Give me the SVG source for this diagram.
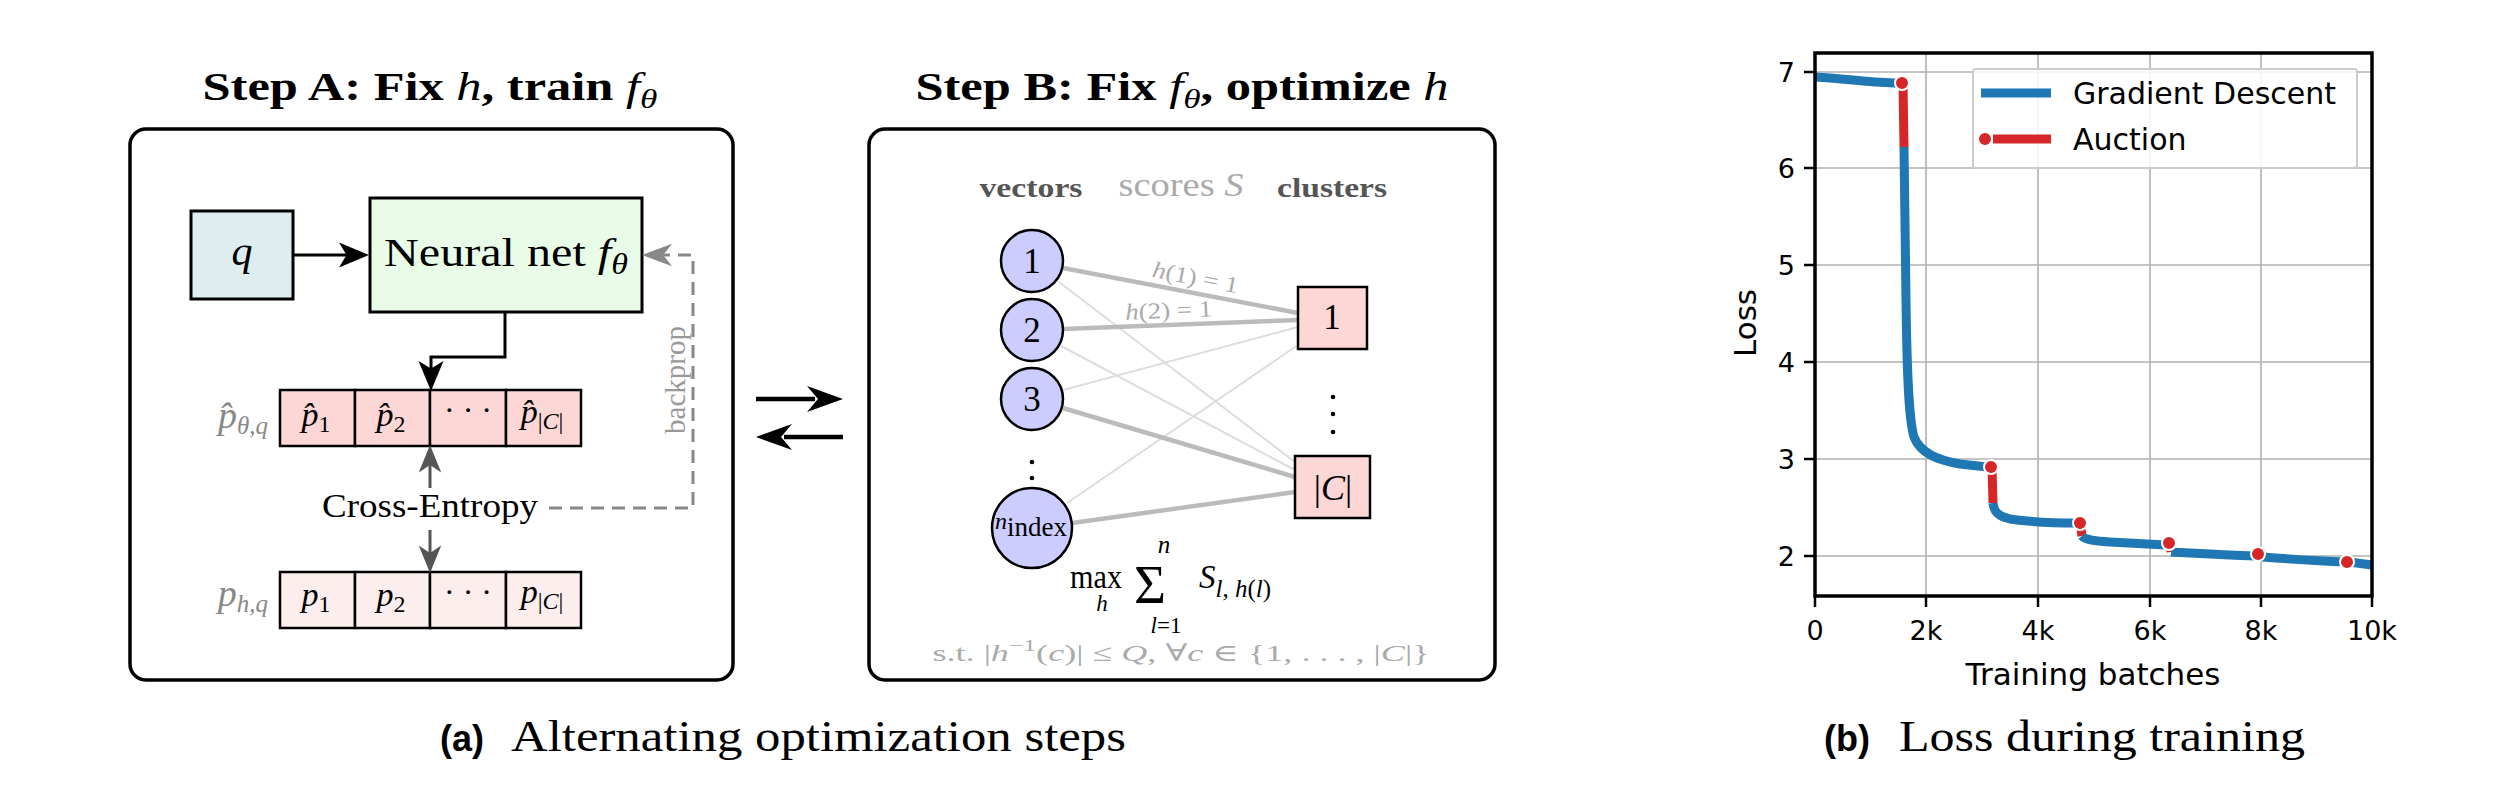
<svg xmlns="http://www.w3.org/2000/svg" width="2520" height="785" viewBox="0 0 2520 785">
<defs>
<style>
.serif{font-family:'Liberation Serif','DejaVu Serif',serif;}
.sans{font-family:'DejaVu Sans','Liberation Sans',sans-serif;}
.capsans{font-family:'Liberation Sans','DejaVu Sans',sans-serif;font-weight:bold;}
.it{font-style:italic;}
.panel{fill:none;stroke:#000;stroke-width:3.5;}
.cell1{fill:#fdd6d6;stroke:#000;stroke-width:2.5;}
.cell2{fill:#fdeeee;stroke:#000;stroke-width:2.5;}
.vec{fill:#ccccff;stroke:#000;stroke-width:2.5;}
.clu{fill:#fdd6d6;stroke:#000;stroke-width:2.5;}
.thick{stroke:#bbbbbb;stroke-width:4.5;fill:none;}
.thin{stroke:#dddddd;stroke-width:2;fill:none;}
.grid{stroke:#b0b0b0;stroke-width:1.6;fill:none;}
.tick{stroke:#000;stroke-width:2.5;}
.gd{fill:none;stroke:#1f77b4;stroke-width:9;stroke-linejoin:round;}
.au{fill:none;stroke:#d62728;stroke-width:9;}
.dot{fill:#d62728;stroke:#fff;stroke-width:2;}
.ticklbl{font-family:'DejaVu Sans',sans-serif;font-size:27px;fill:#000;}
</style>
<marker id="ab" markerUnits="userSpaceOnUse" markerWidth="40" markerHeight="40" viewBox="-24 -14 32 28" refX="0" refY="0" orient="auto">
<path d="M4,0 L-20,-10 L-14,0 L-20,10 Z" fill="#000"/>
</marker>
<marker id="ag" markerUnits="userSpaceOnUse" markerWidth="40" markerHeight="40" viewBox="-24 -14 32 28" refX="0" refY="0" orient="auto">
<path d="M4,0 L-18,-9 L-12,0 L-18,9 Z" fill="#555"/>
</marker>
<marker id="al" markerUnits="userSpaceOnUse" markerWidth="40" markerHeight="40" viewBox="-24 -14 32 28" refX="0" refY="0" orient="auto">
<path d="M4,0 L-20,-9 L-13,0 L-20,9 Z" fill="#888"/>
</marker>
</defs>
<rect width="2520" height="785" fill="#fff"/>

<!-- Panel A -->
<g id="panelA">
<text class="serif" x="430" y="100" font-size="40" font-weight="bold" text-anchor="middle" textLength="455" lengthAdjust="spacingAndGlyphs">Step A: Fix <tspan class="it" font-weight="normal">h</tspan>, train <tspan class="it" font-weight="normal">f</tspan><tspan class="it" font-weight="normal" font-size="28" dy="8">θ</tspan></text>
<rect class="panel" x="130" y="129" width="603" height="551" rx="16"/>
</g>
<g id="node-q">
<rect x="191" y="211" width="102" height="88" fill="#ddedf0" stroke="#000" stroke-width="3"/>
<text class="serif it" x="242" y="265" font-size="42" text-anchor="middle">q</text>
</g>
<g id="node-nn">
<rect x="370" y="198" width="272" height="114" fill="#e8fce8" stroke="#000" stroke-width="3"/>
<text class="serif" x="506" y="266" font-size="41" text-anchor="middle" textLength="244" lengthAdjust="spacingAndGlyphs">Neural net <tspan class="it">f</tspan><tspan class="it" font-size="29" dy="8">θ</tspan></text>
</g>
<g id="node-phat">
<rect class="cell1" x="280" y="390" width="75" height="56"/>
<rect class="cell1" x="355" y="390" width="75" height="56"/>
<rect class="cell1" x="430" y="390" width="76" height="56"/>
<rect class="cell1" x="506" y="390" width="75" height="56"/>
<text class="serif it" x="268" y="428" font-size="38" fill="#888" text-anchor="end">p̂<tspan font-size="25" dy="6">θ,q</tspan></text>
<text class="serif" x="316" y="426" font-size="34" text-anchor="middle"><tspan class="it">p̂</tspan><tspan font-size="24" dy="6">1</tspan></text>
<text class="serif" x="391" y="426" font-size="34" text-anchor="middle"><tspan class="it">p̂</tspan><tspan font-size="24" dy="6">2</tspan></text>
<text class="serif" x="468" y="421" font-size="32" text-anchor="middle">· · ·</text>
<text class="serif" x="542" y="423" font-size="34" text-anchor="middle"><tspan class="it">p̂</tspan><tspan font-size="24" dy="6">|<tspan class="it">C</tspan>|</tspan></text>
</g>
<g id="node-p">
<rect class="cell2" x="280" y="572" width="75" height="56"/>
<rect class="cell2" x="355" y="572" width="75" height="56"/>
<rect class="cell2" x="430" y="572" width="76" height="56"/>
<rect class="cell2" x="506" y="572" width="75" height="56"/>
<text class="serif it" x="268" y="606" font-size="38" fill="#888" text-anchor="end">p<tspan font-size="25" dy="6">h,q</tspan></text>
<text class="serif" x="316" y="606" font-size="34" text-anchor="middle"><tspan class="it">p</tspan><tspan font-size="24" dy="6">1</tspan></text>
<text class="serif" x="391" y="606" font-size="34" text-anchor="middle"><tspan class="it">p</tspan><tspan font-size="24" dy="6">2</tspan></text>
<text class="serif" x="468" y="603" font-size="32" text-anchor="middle">· · ·</text>
<text class="serif" x="542" y="603" font-size="34" text-anchor="middle"><tspan class="it">p</tspan><tspan font-size="24" dy="6">|<tspan class="it">C</tspan>|</tspan></text>
</g>
<g id="node-ce">
<text class="serif" x="430" y="517" font-size="33" text-anchor="middle" textLength="216" lengthAdjust="spacingAndGlyphs">Cross-Entropy</text>
</g>
<g id="connectorsA">
<line x1="293" y1="255" x2="364" y2="255" stroke="#000" stroke-width="3" marker-end="url(#ab)"/>
<path d="M505,312 V357 H431 V386" fill="none" stroke="#000" stroke-width="3" marker-end="url(#ab)"/>
<line x1="430" y1="488" x2="430" y2="450" stroke="#555" stroke-width="3" marker-end="url(#ag)"/>
<line x1="430" y1="530" x2="430" y2="568" stroke="#555" stroke-width="3" marker-end="url(#ag)"/>
<path d="M549,508 H693 V255 H647" fill="none" stroke="#888" stroke-width="3" stroke-dasharray="13 8" marker-end="url(#al)"/>
<text class="serif" transform="translate(685,380) rotate(-90)" font-size="29" fill="#999" text-anchor="middle">backprop</text>
</g>

<!-- middle arrows -->
<g id="swap">
<line x1="756" y1="399" x2="815" y2="399" stroke="#000" stroke-width="4.5"/>
<path d="M843,399 L807,386 L818,399 L807,412 Z" fill="#000"/>
<line x1="843" y1="437" x2="784" y2="437" stroke="#000" stroke-width="4.5"/>
<path d="M756,437 L792,424 L781,437 L792,450 Z" fill="#000"/>
</g>

<!-- Panel B -->
<g id="panelB">
<text class="serif" x="1182" y="100" font-size="40" font-weight="bold" text-anchor="middle" textLength="533" lengthAdjust="spacingAndGlyphs">Step B: Fix <tspan class="it" font-weight="normal">f</tspan><tspan class="it" font-weight="normal" font-size="28" dy="8">θ</tspan><tspan dy="-8">, optimize </tspan><tspan class="it" font-weight="normal">h</tspan></text>
<rect class="panel" x="869" y="129" width="626" height="551" rx="16"/>
<text class="serif" x="1031" y="197" font-size="28" font-weight="bold" fill="#555" text-anchor="middle" textLength="103" lengthAdjust="spacingAndGlyphs">vectors</text>
<text class="serif" x="1181" y="196" font-size="33" fill="#aaa" text-anchor="middle" textLength="125" lengthAdjust="spacingAndGlyphs">scores <tspan class="it">S</tspan></text>
<text class="serif" x="1332" y="197" font-size="28" font-weight="bold" fill="#555" text-anchor="middle" textLength="110" lengthAdjust="spacingAndGlyphs">clusters</text>
</g>
<g id="connectorsB">
<line class="thin" x1="1059" y1="282" x2="1295" y2="462"/>
<line class="thin" x1="1061" y1="346" x2="1295" y2="470"/>
<line class="thin" x1="1063" y1="390" x2="1298" y2="327"/>
<line class="thin" x1="1067" y1="503" x2="1298" y2="345"/>
<line class="thick" x1="1063" y1="268" x2="1298" y2="313"/>
<line class="thick" x1="1063" y1="329" x2="1298" y2="320"/>
<line class="thick" x1="1063" y1="408" x2="1295" y2="477"/>
<line class="thick" x1="1072" y1="523" x2="1295" y2="492"/>
<text class="serif it" transform="translate(1194,285) rotate(10.8)" font-size="23" fill="#aaa" text-anchor="middle" textLength="87" lengthAdjust="spacingAndGlyphs">h<tspan font-style="normal">(1) = 1</tspan></text>
<text class="serif it" transform="translate(1169,318) rotate(-2.2)" font-size="23" fill="#aaa" text-anchor="middle" textLength="87" lengthAdjust="spacingAndGlyphs">h<tspan font-style="normal">(2) = 1</tspan></text>
</g>
<g id="vec-1"><circle class="vec" cx="1032" cy="261" r="31"/><text class="serif" x="1032" y="273" font-size="35" text-anchor="middle">1</text></g>
<g id="vec-2"><circle class="vec" cx="1032" cy="330" r="31"/><text class="serif" x="1032" y="342" font-size="35" text-anchor="middle">2</text></g>
<g id="vec-3"><circle class="vec" cx="1032" cy="399" r="31"/><text class="serif" x="1032" y="411" font-size="35" text-anchor="middle">3</text></g>
<g id="vec-dots"><circle cx="1032" cy="462" r="2.3" fill="#000"/><circle cx="1032" cy="478" r="2.3" fill="#000"/></g>
<g id="vec-n"><circle class="vec" cx="1032" cy="528" r="40"/><text class="serif" x="1031" y="529" font-size="24" text-anchor="middle"><tspan class="it">n</tspan><tspan font-size="27" dy="7">index</tspan></text></g>
<g id="clu-1"><rect class="clu" x="1298" y="287" width="69" height="62"/><text class="serif" x="1332" y="329" font-size="35" text-anchor="middle">1</text></g>
<g id="clu-dots"><circle cx="1333" cy="397" r="2.3" fill="#000"/><circle cx="1333" cy="414" r="2.3" fill="#000"/><circle cx="1333" cy="432" r="2.3" fill="#000"/></g>
<g id="clu-C"><rect class="clu" x="1295" y="456" width="75" height="62"/><text class="serif" x="1333" y="500" font-size="36" text-anchor="middle">|<tspan class="it">C</tspan>|</text></g>
<g id="formula">
<text class="serif" x="1096" y="588" font-size="33" text-anchor="middle" textLength="52" lengthAdjust="spacingAndGlyphs">max</text>
<text class="serif it" x="1102" y="611" font-size="23" text-anchor="middle">h</text>
<text class="serif" x="1150" y="603" font-size="55" text-anchor="middle">Σ</text>
<text class="serif it" x="1164" y="553" font-size="25" text-anchor="middle">n</text>
<text class="serif" x="1166" y="633" font-size="23" text-anchor="middle"><tspan class="it">l</tspan>=1</text>
<text class="serif" x="1199" y="588" font-size="33"><tspan class="it">S</tspan><tspan font-size="25" dy="9"><tspan class="it">l</tspan>, <tspan class="it">h</tspan>(<tspan class="it">l</tspan>)</tspan></text>
<text class="serif" x="1181" y="661" font-size="24" fill="#aaa" text-anchor="middle" textLength="497" lengthAdjust="spacingAndGlyphs">s.t. |<tspan class="it">h</tspan><tspan font-size="17" dy="-10">−1</tspan><tspan dy="10">(</tspan><tspan class="it">c</tspan>)| ≤ <tspan class="it">Q</tspan>,  ∀<tspan class="it">c</tspan> ∈ {1, . . . , |<tspan class="it">C</tspan>|}</text>
</g>

<!-- Panel B chart -->
<g id="chart">
<g class="grid">
<line x1="1926" y1="53" x2="1926" y2="596"/><line x1="2038" y1="53" x2="2038" y2="596"/><line x1="2150" y1="53" x2="2150" y2="596"/><line x1="2261" y1="53" x2="2261" y2="596"/>
<line x1="1815" y1="72" x2="2372" y2="72"/><line x1="1815" y1="168" x2="2372" y2="168"/><line x1="1815" y1="265" x2="2372" y2="265"/><line x1="1815" y1="362" x2="2372" y2="362"/><line x1="1815" y1="459" x2="2372" y2="459"/><line x1="1815" y1="556" x2="2372" y2="556"/>
</g>
<g class="tick">
<line x1="1804" y1="72" x2="1815" y2="72"/><line x1="1804" y1="168" x2="1815" y2="168"/><line x1="1804" y1="265" x2="1815" y2="265"/><line x1="1804" y1="362" x2="1815" y2="362"/><line x1="1804" y1="459" x2="1815" y2="459"/><line x1="1804" y1="556" x2="1815" y2="556"/>
<line x1="1815" y1="596" x2="1815" y2="607"/><line x1="1926" y1="596" x2="1926" y2="607"/><line x1="2038" y1="596" x2="2038" y2="607"/><line x1="2150" y1="596" x2="2150" y2="607"/><line x1="2261" y1="596" x2="2261" y2="607"/><line x1="2372" y1="596" x2="2372" y2="607"/>
</g>
<g class="ticklbl" text-anchor="end">
<text x="1795" y="82">7</text><text x="1795" y="178">6</text><text x="1795" y="275">5</text><text x="1795" y="372">4</text><text x="1795" y="469">3</text><text x="1795" y="566">2</text>
</g>
<g class="ticklbl" text-anchor="middle">
<text x="1815" y="640">0</text><text x="1926" y="640">2k</text><text x="2038" y="640">4k</text><text x="2150" y="640">6k</text><text x="2261" y="640">8k</text><text x="2372" y="640">10k</text>
</g>
<text class="sans" x="2093" y="685" font-size="31" text-anchor="middle">Training batches</text>
<text class="sans" transform="translate(1756,323) rotate(-90)" font-size="31" text-anchor="middle">Loss</text>
<g id="series">
<path class="gd" d="M1815,77 C1850,79 1875,83 1897,83"/>
<path class="au" d="M1903,83 L1904,147"/>
<path class="gd" d="M1904,147 L1906,300 C1907,380 1909,420 1914,437 C1920,452 1935,460 1960,464 L1987,467"/>
<path class="au" d="M1992,467 L1993,503"/>
<path class="gd" d="M1993,503 C1994,512 1998,516 2010,519 C2030,522 2055,523 2077,523"/>
<path class="au" d="M2080,523 L2082,536"/>
<path class="gd" d="M2082,536 C2085,540 2095,541 2110,542 L2166,545"/>
<path class="au" d="M2170,543 L2171,552"/>
<path class="gd" d="M2171,552 C2190,553 2220,555 2256,556"/>
<path class="gd" d="M2262,557 C2290,559 2320,561 2345,562"/>
<path class="gd" d="M2349,562 L2372,565"/>
<circle class="dot" cx="1902" cy="83" r="7"/>
<circle class="dot" cx="1991" cy="467" r="7"/>
<circle class="dot" cx="2080" cy="523" r="7"/>
<circle class="dot" cx="2169" cy="543" r="7"/>
<circle class="dot" cx="2258" cy="554" r="7"/>
<circle class="dot" cx="2347" cy="562" r="7"/>
</g>
<rect x="1815" y="53" width="557" height="543" fill="none" stroke="#000" stroke-width="3.5"/>
<g id="legend">
<rect x="1973" y="69" width="384" height="99" rx="3" fill="#fff" fill-opacity="0.85" stroke="#cccccc" stroke-width="2"/>
<line x1="1981" y1="93" x2="2051" y2="93" stroke="#1f77b4" stroke-width="9"/>
<text class="sans" x="2073" y="104" font-size="30">Gradient Descent</text>
<line x1="1993" y1="139" x2="2051" y2="139" stroke="#d62728" stroke-width="9"/>
<circle class="dot" cx="1985" cy="139" r="7"/>
<text class="sans" x="2073" y="150" font-size="30">Auction</text>
</g>
</g>

<!-- captions -->
<g id="captions">
<text class="capsans" x="440" y="751" font-size="36">(a)</text>
<text class="serif" x="511" y="751" font-size="44" textLength="615" lengthAdjust="spacingAndGlyphs">Alternating optimization steps</text>
<text class="capsans" x="1824" y="751" font-size="36">(b)</text>
<text class="serif" x="1899" y="751" font-size="44" textLength="406" lengthAdjust="spacingAndGlyphs">Loss during training</text>
</g>
</svg>
